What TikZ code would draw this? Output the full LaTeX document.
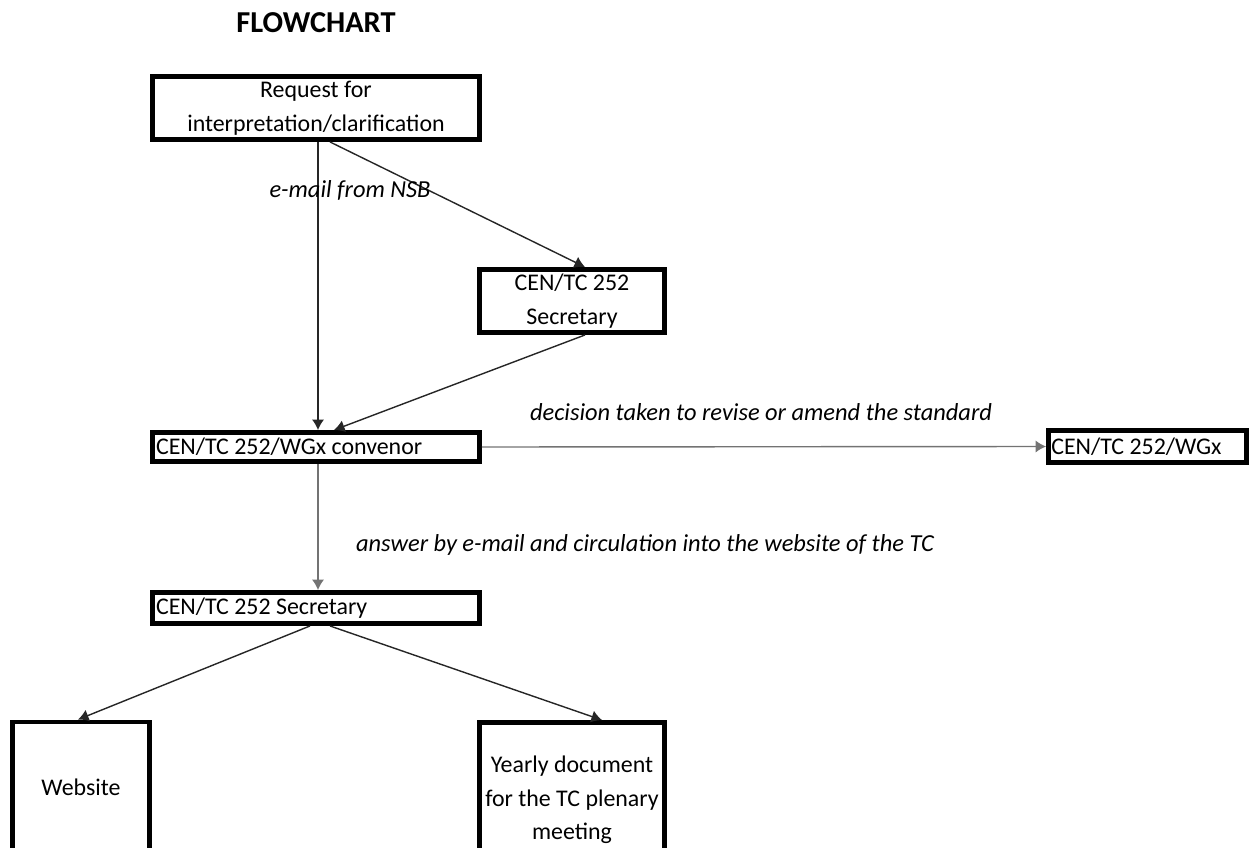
\documentclass[tikz,border=0pt]{standalone}
\usepackage{fontspec}
\setmainfont{Carlito}
\usetikzlibrary{arrows.meta}
\tikzset{
  >={Latex[length=6pt,width=7pt]},
  box/.style={draw,line width=2.8pt,inner sep=1.5pt,align=flush center,font=\fontsize{13.6}{19.2}\selectfont},
  wide/.style={box,minimum width=6.54cm,text width=6.4cm,align=flush left},
  link/.style={->,line width=0.8pt,black!85},
  greylink/.style={->,line width=0.8pt,black!55},
  note/.style={font=\fontsize{13.9}{18.2}\selectfont\itshape}
}
\begin{document}
\begin{tikzpicture}[x=0.02cm,y=-0.02cm]
  \useasboundingbox (0,0) rectangle (1251,848);
  \clip (0,0) rectangle (1251,848);
  \node[font=\fontsize{17.3}{20}\selectfont\bfseries] (title) at (316,23) {FLOWCHART};
  \node[box,minimum width=6.54cm,minimum height=1.26cm] (req) at (316,108) {Request for\\interpretation/clarification};
  \node[box,minimum width=3.7cm,minimum height=1.26cm] (sec1) at (572,301) {CEN/TC 252\\Secretary};
  \node[wide,minimum height=0.58cm] (conv) at (316,447) {CEN/TC 252/WGx convenor};
  \node[box,minimum width=3.96cm,text width=3.85cm,align=flush left,minimum height=0.64cm] (wgx) at (1147.5,446.5) {CEN/TC 252/WGx};
  \node[wide,minimum height=0.62cm] (sec2) at (316,608) {CEN/TC 252 Secretary};
  \node[box,minimum width=2.74cm,minimum height=2.6cm] (web) at (81,787) {Website};
  \node[box,minimum width=3.7cm,minimum height=3.1cm] (year) at (572,800) {Yearly document\\for the TC plenary\\meeting};
  % connectors
  \draw[link] ([xshift=0.04cm]req.south) -- ([xshift=0.04cm]conv.north);
  \draw[link] ([xshift=0.28cm]req.south) -- ([xshift=0.26cm]sec1.north);
  \draw[link] ([xshift=0.26cm]sec1.south) -- ([xshift=0.36cm]conv.north);
  \draw[greylink] (conv.east) -- (wgx.west);
  \draw[greylink] ([xshift=0.04cm]conv.south) -- ([xshift=0.04cm]sec2.north);
  \draw[link] ([xshift=-0.12cm]sec2.south) -- ([xshift=-0.06cm]web.north);
  \draw[link] ([xshift=0.28cm]sec2.south) -- ([xshift=0.6cm]year.north);
  % labels
  \node[note] (nsb) at (350,190) {e-mail from NSB};
  \node[note] (revise) at (761,412) {decision taken to revise or amend the standard};
  \node[note] (answer) at (645,545) {answer by e-mail and circulation into the website of the TC};
\end{tikzpicture}
\end{document}
